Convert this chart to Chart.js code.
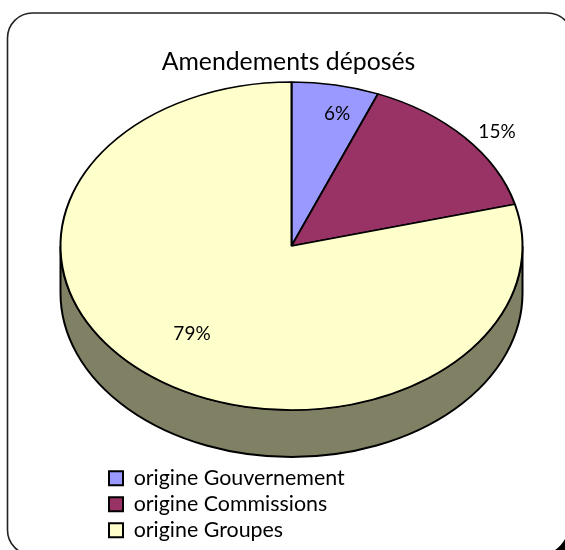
<!DOCTYPE html>
<html>
<head>
<meta charset="utf-8">
<script src="https://cdn.jsdelivr.net/npm/chart.js@4"></script>
<style>
  html, body { margin: 0; padding: 0; background: #fff; overflow: hidden; }
  canvas { display: block; }
</style>
</head>
<body>
<canvas id="myChart" width="565" height="550"></canvas>
<script>
var categories = ["origine Gouvernement", "origine Commissions", "origine Groupes"];
var values = [6.1, 14.8, 79.1];
var colors = ["#9999FF", "#993366", "#FFFFCC"];
var titleText = "Amendements déposés";

// where the flattened pie sits on the page
var pie = { x: 291.5, y: 246, radius: 231, ry: 164, depth: 47 };
var labelSpots = [[337, 114], [497, 132], [192, 334]];
var fontName = "Lato";

var framePlugin = {
  id: "frame",
  beforeDraw: function (chart) {
    var ctx = chart.ctx;
    ctx.save();
    ctx.fillStyle = "#fff";
    ctx.fillRect(0, 0, 565, 550);
    ctx.beginPath();
    ctx.roundRect(7.5, 13, 565, 542, 25);
    ctx.lineWidth = 1.6;
    ctx.strokeStyle = "#222";
    ctx.stroke();
    // dark corner bottom right
    ctx.beginPath();
    ctx.moveTo(565, 539);
    ctx.quadraticCurveTo(561, 546, 555, 550);
    ctx.lineTo(565, 550);
    ctx.closePath();
    ctx.fillStyle = "#000";
    ctx.fill();
    ctx.restore();
    // legend goes bottom left, one row per item
    chart.legend.left = 104.4;
    chart.legend.right = 400;
    chart.legend.top = 463;
    chart.legend.bottom = 550;
  }
};

var flatPiePlugin = {
  id: "flatPie",
  beforeDatasetsDraw: function (chart) {
    var ctx = chart.ctx;
    var arc = chart.getDatasetMeta(0).data[0];
    var r = arc.outerRadius;
    var ry = r * pie.ry / pie.radius;
    ctx.save();
    // side of the pie
    ctx.beginPath();
    ctx.ellipse(pie.x, pie.y + pie.depth, r, ry, 0, 0, Math.PI);
    ctx.lineTo(pie.x - r, pie.y);
    ctx.ellipse(pie.x, pie.y, r, ry, 0, Math.PI, 0, true);
    ctx.closePath();
    ctx.fillStyle = "#808064";
    ctx.fill();
    ctx.lineWidth = 2;
    ctx.strokeStyle = "#000";
    ctx.stroke();
    // squash the slices
    ctx.translate(pie.x, pie.y);
    ctx.scale(1, pie.ry / pie.radius);
    ctx.translate(-arc.x, -arc.y);
  },
  afterDatasetsDraw: function (chart) {
    var ctx = chart.ctx;
    ctx.restore();
    ctx.save();
    ctx.fillStyle = "#000";
    ctx.font = "19px " + fontName;
    ctx.textAlign = "center";
    ctx.textBaseline = "middle";
    values.forEach(function (v, i) {
      ctx.fillText(Math.round(v) + "%", labelSpots[i][0], labelSpots[i][1]);
    });
    ctx.restore();
  }
};

var ctx = document.getElementById("myChart").getContext("2d");
var myChart = new Chart(ctx, {
  type: "pie",
  data: {
    labels: categories,
    datasets: [
      {
        data: values,
        backgroundColor: colors,
        borderColor: "#000",
        borderWidth: 2,
        radius: pie.radius,
        clip: false,
      },
    ],
  },
  options: {
    responsive: false,
    animation: false,
    layout: { padding: { left: 12, right: 0, top: 0, bottom: 0 } },
    plugins: {
      tooltip: { enabled: false },
      title: {
        display: true,
        text: titleText,
        color: "#000",
        font: { family: fontName, size: 24.8, weight: "normal", lineHeight: 1.2 },
        padding: { top: 47, bottom: 0 },
      },
      legend: {
        display: true,
        position: "chartArea",
        align: "start",
        labels: {
          color: "#000",
          boxWidth: 14,
          boxHeight: 14,
          padding: 4.6,
          font: { family: fontName, size: 21.4, lineHeight: 1 },
        },
      },
    },
  },
  plugins: [framePlugin, flatPiePlugin],
});
</script>
</body>
</html>
